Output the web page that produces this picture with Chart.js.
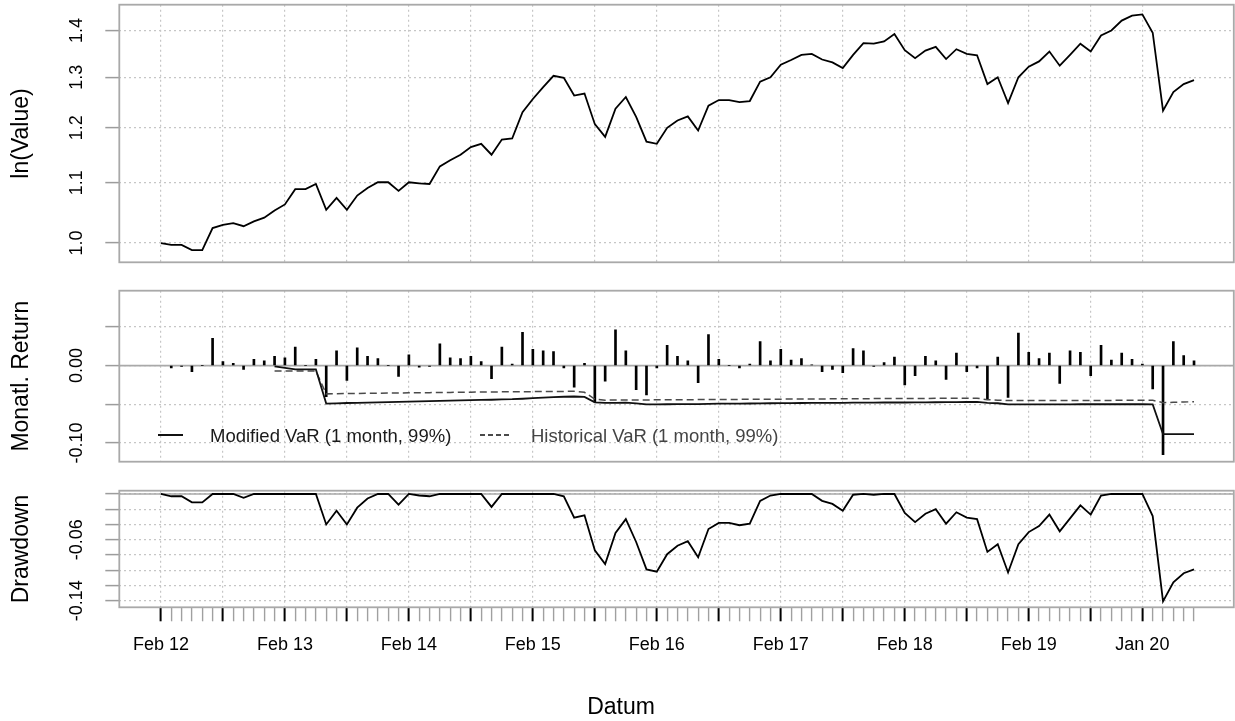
<!DOCTYPE html>
<html>
<head>
<meta charset="utf-8">
<script src="https://cdn.jsdelivr.net/npm/chart.js@4.4.1/dist/chart.umd.min.js"></script>
<style>
html,body{margin:0;padding:0;background:#fff;}
#wrap{position:relative;width:1235px;height:721px;overflow:hidden;font-family:'Liberation Sans',Arial,Helvetica,sans-serif;}
canvas{position:absolute;left:0;}
.txt{position:absolute;white-space:nowrap;line-height:1;color:#000;z-index:5;}
.smp{position:absolute;z-index:5;}
</style>
</head>
<body>
<div id="wrap">
  <canvas id="c1" width="1235" height="268" style="top:0px;width:1235px;height:268px"></canvas>
  <canvas id="c2" width="1235" height="192" style="top:276px;width:1235px;height:192px"></canvas>
  <canvas id="c3" width="1235" height="245" style="top:476px;width:1235px;height:245px"></canvas>

  <div class="smp" style="left:158px;top:434px;width:25px;height:2px;background:#111;"></div>
  <div class="txt" style="left:210px;top:426.5px;font-size:18.5px;color:#1a1a1a;">Modified VaR (1 month, 99%)</div>
  <div class="smp" style="left:480px;top:434.3px;width:29px;height:1.6px;background:repeating-linear-gradient(to right,#4a4a4a 0px,#4a4a4a 5px,transparent 5px,transparent 8px);"></div>
  <div class="txt" style="left:531px;top:426.5px;font-size:18.5px;color:#444;">Historical VaR (1 month, 99%)</div>
  <div class="txt" style="left:621px;top:695px;font-size:23px;transform:translateX(-50%);">Datum</div>
</div>
<script>
// ---------- DATA ----------
const months = [
'2012-02','2012-03','2012-04','2012-05','2012-06','2012-07','2012-08','2012-09','2012-10','2012-11','2012-12',
'2013-01','2013-02','2013-03','2013-04','2013-05','2013-06','2013-07','2013-08','2013-09','2013-10','2013-11','2013-12',
'2014-01','2014-02','2014-03','2014-04','2014-05','2014-06','2014-07','2014-08','2014-09','2014-10','2014-11','2014-12',
'2015-01','2015-02','2015-03','2015-04','2015-05','2015-06','2015-07','2015-08','2015-09','2015-10','2015-11','2015-12',
'2016-01','2016-02','2016-03','2016-04','2016-05','2016-06','2016-07','2016-08','2016-09','2016-10','2016-11','2016-12',
'2017-01','2017-02','2017-03','2017-04','2017-05','2017-06','2017-07','2017-08','2017-09','2017-10','2017-11','2017-12',
'2018-01','2018-02','2018-03','2018-04','2018-05','2018-06','2018-07','2018-08','2018-09','2018-10','2018-11','2018-12',
'2019-01','2019-02','2019-03','2019-04','2019-05','2019-06','2019-07','2019-08','2019-09','2019-10','2019-11','2019-12',
'2020-01','2020-02','2020-03','2020-04','2020-05','2020-06'];

const values = [
1.000,0.997,0.997,0.989,0.989,1.024,1.029,1.032,1.027,1.035,
1.041,1.053,1.063,1.089,1.089,1.098,1.054,1.074,1.054,1.078,
1.091,1.101,1.101,1.086,1.101,1.099,1.098,1.129,1.140,1.150,
1.164,1.170,1.150,1.178,1.180,1.230,1.256,1.280,1.303,1.299,
1.263,1.267,1.207,1.183,1.237,1.260,1.221,1.174,1.170,1.200,
1.214,1.222,1.195,1.243,1.254,1.254,1.250,1.252,1.291,1.300,
1.326,1.336,1.347,1.349,1.337,1.331,1.319,1.347,1.372,1.371,
1.376,1.392,1.357,1.340,1.356,1.364,1.338,1.359,1.349,1.346,
1.286,1.300,1.248,1.300,1.322,1.333,1.354,1.324,1.347,1.371,
1.354,1.389,1.400,1.422,1.433,1.436,1.395,1.233,1.270,1.286,
1.294];

const returns = [
null,-0.003,-0.001,-0.008,0.000,0.035,0.005,0.003,-0.005,0.008,
0.006,0.012,0.010,0.024,0.000,0.008,-0.040,0.019,-0.019,0.023,
0.012,0.009,0.000,-0.014,0.014,-0.002,-0.001,0.028,0.010,0.009,
0.012,0.005,-0.017,0.024,0.002,0.043,0.021,0.019,0.018,-0.003,
-0.028,0.003,-0.047,-0.020,0.046,0.019,-0.031,-0.038,-0.003,0.026,
0.012,0.006,-0.022,0.040,0.008,0.000,-0.003,0.002,0.031,0.006,
0.021,0.007,0.009,0.001,-0.008,-0.005,-0.009,0.022,0.019,-0.001,
0.004,0.011,-0.025,-0.013,0.012,0.006,-0.018,0.016,-0.008,-0.003,
-0.044,0.011,-0.041,0.042,0.017,0.009,0.016,-0.023,0.019,0.017,
-0.013,0.026,0.007,0.016,0.008,0.002,-0.030,-0.115,0.031,0.013,
0.006];

const modifiedVaR = [
null,null,null,null,null,null,null,null,null,null,null,
-0.001,-0.003,-0.005,-0.005,-0.005,
-0.0490,-0.0487,-0.0483,-0.0480,-0.0477,
-0.0474,-0.0471,-0.0469,-0.0465,-0.0462,
-0.0459,-0.0455,-0.0452,-0.0449,-0.0446,
-0.0443,-0.0441,-0.0437,-0.0434,-0.0428,
-0.0421,-0.0414,-0.0407,-0.0402,-0.0399,
-0.0404,-0.0475,-0.0482,-0.0481,-0.0479,
-0.0487,-0.0500,-0.0501,-0.0499,-0.0497,
-0.0496,-0.0496,-0.0494,-0.0492,-0.0491,
-0.0490,-0.0489,-0.0487,-0.0486,-0.0485,
-0.0484,-0.0483,-0.0482,-0.0482,-0.0481,
-0.0480,-0.0479,-0.0478,-0.0477,-0.0476,
-0.0476,-0.0476,-0.0475,-0.0474,-0.0473,
-0.0472,-0.0471,-0.0470,-0.0469,-0.0480,
-0.0486,-0.0501,-0.0500,-0.0500,-0.0500,
-0.0500,-0.0500,-0.0500,-0.0499,-0.0499,
-0.0499,-0.0499,-0.0499,-0.0499,-0.0499,
-0.0500,-0.0885,-0.0884,-0.0884,-0.0883];

const historicalVaR = [
null,null,null,null,null,null,null,null,null,null,null,
-0.007,-0.007,-0.007,-0.007,-0.007,
-0.0365,-0.0363,-0.0361,-0.0360,-0.0358,
-0.0357,-0.0355,-0.0354,-0.0352,-0.0350,
-0.0349,-0.0347,-0.0346,-0.0344,-0.0343,
-0.0341,-0.0340,-0.0339,-0.0338,-0.0337,
-0.0336,-0.0335,-0.0334,-0.0333,-0.0332,
-0.0345,-0.0432,-0.0446,-0.0445,-0.0444,
-0.0444,-0.0443,-0.0442,-0.0441,-0.0440,
-0.0440,-0.0439,-0.0438,-0.0437,-0.0437,
-0.0436,-0.0435,-0.0434,-0.0433,-0.0433,
-0.0432,-0.0431,-0.0430,-0.0430,-0.0429,
-0.0428,-0.0428,-0.0427,-0.0426,-0.0426,
-0.0425,-0.0425,-0.0424,-0.0424,-0.0423,
-0.0422,-0.0422,-0.0421,-0.0421,-0.0440,
-0.0446,-0.0452,-0.0451,-0.0451,-0.0450,
-0.0450,-0.0450,-0.0450,-0.0449,-0.0449,
-0.0449,-0.0449,-0.0448,-0.0448,-0.0448,
-0.0448,-0.0478,-0.0474,-0.0470,-0.0466];

const drawdown = [
0,-0.003,-0.003,-0.011,-0.011,0,0,0,-0.005,0,
0,0,0,0,0,0,-0.040,-0.022,-0.040,-0.018,
-0.006,0,0,-0.014,0,-0.002,-0.003,0,0,0,
0,0,-0.017,0,0,0,0,0,0,-0.003,
-0.031,-0.028,-0.074,-0.092,-0.051,-0.033,-0.063,-0.099,-0.102,-0.079,
-0.068,-0.062,-0.083,-0.046,-0.038,-0.038,-0.041,-0.039,-0.009,-0.002,
0,0,0,0,-0.009,-0.013,-0.022,-0.001,0,-0.001,
0,0,-0.025,-0.037,-0.026,-0.020,-0.039,-0.024,-0.031,-0.033,
-0.076,-0.066,-0.103,-0.066,-0.050,-0.042,-0.027,-0.049,-0.032,-0.015,
-0.027,-0.002,0,0,0,0,-0.029,-0.141,-0.116,-0.104,
-0.099];

// tick definitions
const majorIdx = [0,6,12,18,24,30,36,42,48,54,60,66,72,78,84,90,95];
const xLabelIdx = [0,12,24,36,48,60,72,84,95];
const xLabels = ['Feb 12','Feb 13','Feb 14','Feb 15','Feb 16','Feb 17','Feb 18','Feb 19','Jan 20'];
const valueTicks = [1.0,1.1,1.2,1.3,1.4];
const valueTickLabels = ['1.0','1.1','1.2','1.3','1.4'];
const returnTicks = [-0.10,-0.05,0,0.05];
const returnTickLabels = ['-0.10','','0.00',''];
const ddTicks = [-0.14,-0.12,-0.10,-0.08,-0.06,-0.04,-0.02,0];
const ddTickLabels = ['-0.14','','','','-0.06','','',''];

// ---------- STYLE / HELPERS ----------
const FONT = "'Liberation Sans', Arial, Helvetica, sans-serif";
Chart.defaults.font.family = FONT;
Chart.defaults.color = '#000';
const GRID = '#c6c6c6';
const FRAME = '#a9a9a9';
const X_MIN = -4.03, X_MAX = 103.85;

function pts(arr){ return arr.map((v,i)=>({x:i, y:v})); }
const isMajor = v => majorIdx.indexOf(v) >= 0;

function xScale(showTicks, height){
  return {
    type:'linear', min:X_MIN, max:X_MAX, offset:false,
    afterBuildTicks: s => {
      const arr = showTicks ? months.map((m,i)=>i) : majorIdx;
      s.ticks = arr.map(v=>({value:v}));
    },
    grid:{
      offset:false,
      color: c => (c.tick && isMajor(c.tick.value)) ? GRID : 'rgba(0,0,0,0)',
      lineWidth:1.2,
      drawTicks: showTicks,
      tickLength:14,
      tickColor: c => (c.tick && isMajor(c.tick.value)) ? '#000' : '#a0a0a0',
      tickWidth: c => (c.tick && isMajor(c.tick.value)) ? 2 : 1.4,
      borderDash:[2,3]
    },
    border:{display:false, dash:[2,3]},
    ticks:{
      display: showTicks, autoSkip:false, maxRotation:0, minRotation:0,
      padding:12.5, color:'#000', font:{family:FONT, size:18},
      callback: v => { const k = xLabelIdx.indexOf(v); return k >= 0 ? xLabels[k] : ''; }
    },
    afterFit: s => { s.height = height; s.paddingLeft = 0; s.paddingRight = 0; }
  };
}

function yScale(o){
  return {
    type:o.type, position:'left', min:o.min, max:o.max,
    afterBuildTicks: s => { s.ticks = o.ticks.map(v=>({value:v})); },
    grid:{ color:GRID, lineWidth:1.2, borderDash:[2,3], drawTicks:true, tickLength:14,
           tickColor:'#9c9c9c', tickWidth:1.5, tickBorderDash:[] },
    border:{display:false, dash:[2,3]},
    ticks:{ padding:o.pad, crossAlign:'center', minRotation:90, maxRotation:90, autoSkip:false,
            color:'#000', font:{family:FONT, size:18},
            callback: (v) => { const k = o.ticks.findIndex(t => Math.abs(t - v) < 1e-9); return k >= 0 ? o.labels[k] : ''; } },
    title:{ display:true, text:o.title, color:'#000', font:{family:FONT, size:23, lineHeight:1.2}, padding:{top:8, bottom:0} },
    afterFit: s => { s.width = 119.3; s.paddingTop = 0; s.paddingBottom = 0; }
  };
}

const framePlugin = {
  id:'frame',
  beforeDatasetsDraw(chart, args, opts){
    if (!opts || !opts.zero) return;
    const {ctx, chartArea:a} = chart;
    const py = chart.scales.y.getPixelForValue(0);
    ctx.save();
    ctx.strokeStyle = FRAME; ctx.lineWidth = 1.6; ctx.setLineDash([]);
    ctx.beginPath(); ctx.moveTo(a.left, py); ctx.lineTo(a.right, py); ctx.stroke();
    ctx.restore();
  },
  afterDatasetsDraw(chart){
    const {ctx, chartArea:a} = chart;
    ctx.save();
    ctx.strokeStyle = FRAME; ctx.lineWidth = 1.8; ctx.setLineDash([]);
    ctx.strokeRect(a.left, a.top, a.right - a.left, a.bottom - a.top);
    ctx.restore();
  }
};

const common = { responsive:false, animation:false, events:[], maintainAspectRatio:false };

// ---------- PANEL 1: value (log scale) ----------
new Chart(document.getElementById('c1'), {
  type:'line',
  data:{ datasets:[{ data:pts(values), borderColor:'#000', borderWidth:1.8, pointRadius:0, tension:0, fill:false }] },
  options:Object.assign({}, common, {
    layout:{ padding:{ top:4.7, bottom:5.7, left:0, right:1.2 } },
    plugins:{ legend:{display:false}, tooltip:{enabled:false}, frame:{zero:false} },
    scales:{
      x: xScale(false, 0),
      y: yScale({ type:'logarithmic', min:0.97435, max:1.4582, ticks:valueTicks, labels:valueTickLabels, pad:15.8, title:'ln(Value)' })
    }
  }),
  plugins:[framePlugin]
});

// ---------- PANEL 2: monthly returns + VaR ----------
new Chart(document.getElementById('c2'), {
  type:'line',
  data:{ datasets:[
    { type:'line', data:pts(modifiedVaR), borderColor:'#111', borderWidth:1.8, pointRadius:0, tension:0, fill:false, order:1 },
    { type:'line', data:pts(historicalVaR), borderColor:'#4a4a4a', borderWidth:1.5, borderDash:[7,4], pointRadius:0, tension:0, fill:false, order:2 },
    { type:'bar', data:pts(returns), backgroundColor:'#000', borderWidth:0, barThickness:2, grouped:false, order:3 }
  ]},
  options:Object.assign({}, common, {
    layout:{ padding:{ top:14.7, bottom:6.3, left:0, right:1.2 } },
    plugins:{ legend:{display:false}, tooltip:{enabled:false}, frame:{zero:true} },
    scales:{
      x: xScale(false, 0),
      y: yScale({ type:'linear', min:-0.1240, max:0.0966, ticks:returnTicks, labels:returnTickLabels, pad:7.3, title:'Monatl. Return' })
    }
  }),
  plugins:[framePlugin]
});

// ---------- PANEL 3: drawdown ----------
new Chart(document.getElementById('c3'), {
  type:'line',
  data:{ datasets:[{ data:pts(drawdown), borderColor:'#000', borderWidth:1.8, pointRadius:0, tension:0, fill:false }] },
  options:Object.assign({}, common, {
    layout:{ padding:{ top:14.7, bottom:0, left:0, right:1.2 } },
    plugins:{ legend:{display:false}, tooltip:{enabled:false}, frame:{zero:true} },
    scales:{
      x: xScale(true, 113.7),
      y: yScale({ type:'linear', min:-0.1487, max:0.0043, ticks:ddTicks, labels:ddTickLabels, pad:7.3, title:'Drawdown' })
    }
  }),
  plugins:[framePlugin]
});
</script>
</body>
</html>
